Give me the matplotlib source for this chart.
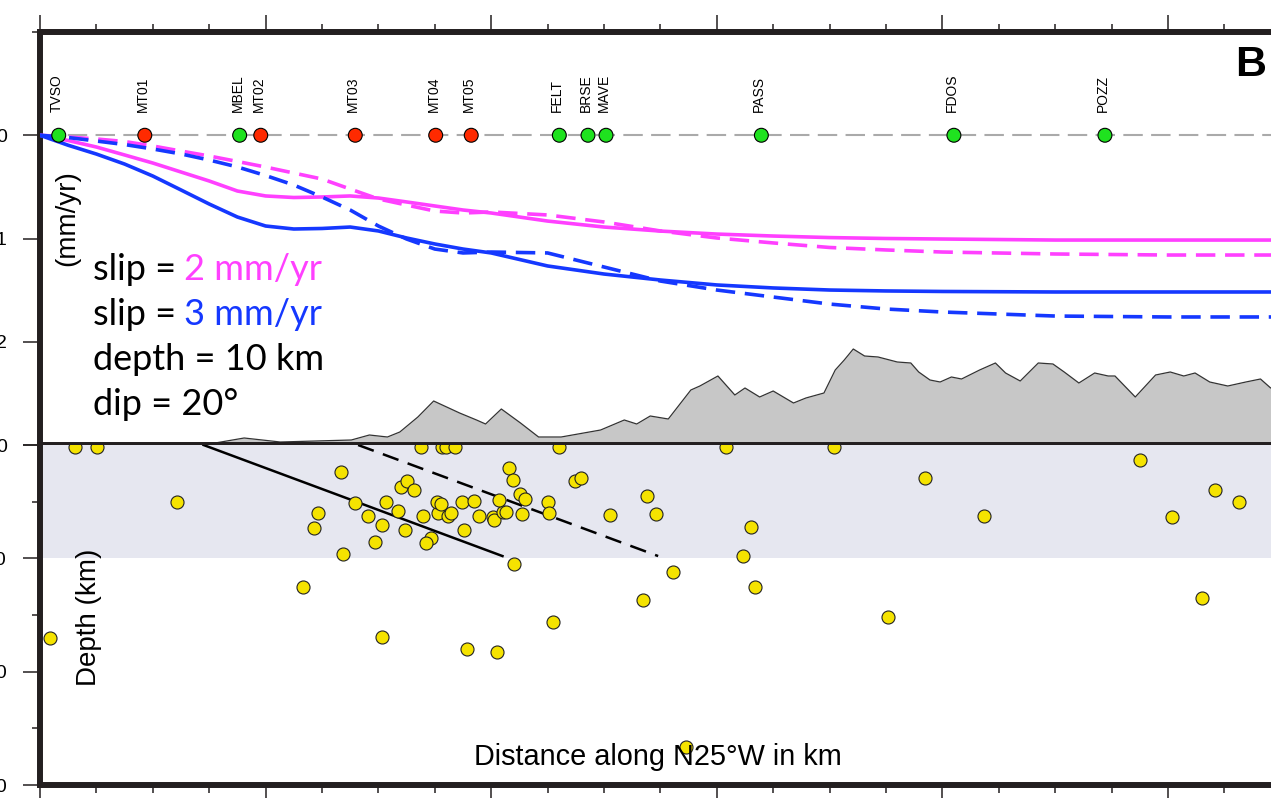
import matplotlib
matplotlib.use("Agg")
import matplotlib.pyplot as plt

plt.rcParams['lines.scale_dashes'] = False

# ---------------- data ----------------
model_km = [0, 2.5, 5, 7.5, 10, 12.5, 15, 17.5, 20, 22.5, 25, 27.5, 30, 32.5, 35,
            37.5, 40, 45, 50, 55, 60, 65, 70, 75, 80, 90, 100, 110]
slip2_solid = [0, 0.051, 0.114, 0.191, 0.269, 0.356, 0.443, 0.540, 0.588, 0.603, 0.598,
               0.588, 0.608, 0.646, 0.685, 0.724, 0.753, 0.831, 0.889, 0.928, 0.957,
               0.976, 0.991, 1.000, 1.005, 1.015, 1.015, 1.015]
slip2_dashed = [0, 0.017, 0.036, 0.061, 0.104, 0.153, 0.201, 0.254, 0.308, 0.366, 0.424,
                0.521, 0.617, 0.676, 0.734, 0.753, 0.743, 0.772, 0.840, 0.927, 0.995,
                1.043, 1.087, 1.111, 1.131, 1.150, 1.160, 1.160]
slip3_solid = [0, 0.097, 0.182, 0.279, 0.395, 0.530, 0.666, 0.792, 0.879, 0.908, 0.903,
               0.889, 0.927, 0.995, 1.053, 1.102, 1.140, 1.266, 1.344, 1.402, 1.450,
               1.479, 1.499, 1.508, 1.513, 1.518, 1.518, 1.518]
slip3_dashed = [0, 0.022, 0.056, 0.090, 0.133, 0.181, 0.240, 0.307, 0.390, 0.482, 0.598,
                0.724, 0.879, 1.005, 1.102, 1.140, 1.131, 1.140, 1.276, 1.412, 1.499,
                1.567, 1.635, 1.683, 1.712, 1.751, 1.760, 1.760]

station_names = ['TVSO', 'MT01', 'MBEL', 'MT02', 'MT03', 'MT04', 'MT05',
                 'FELT', 'BRSE', 'MAVE', 'PASS', 'FDOS', 'POZZ']
station_km = [1.66, 9.29, 17.70, 19.57, 27.95, 35.08, 38.23,
              46.04, 48.58, 50.18, 63.95, 81.02, 94.41]
station_kind = ['cgps', 'mt', 'cgps', 'mt', 'mt', 'mt', 'mt',
                'cgps', 'cgps', 'cgps', 'cgps', 'cgps', 'cgps']

topo_km = [0, 14.5, 18.1, 21.3, 27.6, 29.2, 30.8, 31.9, 33.5, 34.9, 37.2, 38.7, 39.5,
           40.9, 42.6, 44.2, 46.2, 49.7, 51.8, 52.9, 54.1, 55.7, 57.7, 58.5, 60.1,
           61.6, 62.5, 63.8, 65.0, 66.8, 67.9, 69.5, 70.5, 71.3, 72.1, 73.1, 74.3,
           76.0, 77.2, 77.9, 78.9, 79.8, 80.8, 81.7, 83.3, 84.7, 85.6, 86.9, 88.5,
           89.8, 90.8, 92.1, 93.5, 94.7, 95.3, 97.1, 98.9, 100.2, 101.4, 102.4,
           103.7, 105.3, 106.9, 108.2, 109.1, 110]
topo_m = [0, 0, 140, 60, 100, 200, 160, 260, 560, 880, 640, 500, 420,
          720, 440, 160, 160, 300, 500, 420, 580, 520, 1100, 1180, 1380,
          1000, 1140, 960, 1080, 840, 940, 1040, 1500, 1700, 1920, 1780, 1760,
          1660, 1640, 1460, 1300, 1260, 1360, 1320, 1500, 1640, 1440, 1280, 1640,
          1620, 1460, 1240, 1440, 1380, 1380, 960, 1400, 1460, 1380, 1440,
          1260, 1180, 1260, 1320, 1140, 1200]

quake_km = [3.07, 5.05, 12.17, 26.68, 24.68, 24.33, 26.82, 23.33, 0.93, 27.89, 29.11,
            29.74, 30.34, 30.70, 30.34, 31.76, 32.39, 32.00, 32.55, 33.19, 33.95,
            34.69, 34.18, 35.28, 35.17, 35.57, 36.20, 36.44, 37.38, 37.62, 38.49,
            38.89, 37.82, 40.47, 40.12, 40.28, 41.06, 41.34, 40.67, 41.62, 41.93,
            42.53, 43.04, 42.73, 42.06, 45.03, 45.14, 45.46, 47.47, 47.95, 50.57,
            53.81, 54.64, 53.46, 56.14, 33.82, 35.60, 35.99, 36.79, 46.01, 60.83,
            70.35, 97.54, 78.43, 104.13, 106.32, 83.66, 100.32, 63.03, 62.32, 63.35,
            75.20, 102.97, 57.23]
quake_depth = [0.15, 0.15, 5.06, 2.38, 6.00, 7.33, 9.62, 12.53, 17.01, 5.15, 6.27,
               8.56, 7.03, 5.03, 16.92, 5.83, 7.53, 3.68, 3.15, 3.97, 6.27,
               8.18, 8.62, 6.00, 5.03, 5.23, 6.29, 6.00, 5.03, 7.48, 4.92,
               6.24, 18.00, 18.30, 6.38, 6.62, 5.89, 5.89, 4.85, 2.03, 3.09,
               4.30, 4.79, 6.12, 10.53, 5.03, 6.00, 15.60, 3.15, 2.94, 6.20,
               4.50, 6.12, 13.65, 11.21, 0.15, 0.15, 0.15, 0.15, 0.15, 0.15,
               0.15, 1.32, 2.89, 3.97, 5.06, 6.27, 6.35, 7.21, 9.77, 12.56,
               15.21, 13.53, 26.63]

fault_solid_km = [14.5, 41.0]
fault_solid_depth = [0, 9.8]
fault_dashed_km = [28.2, 54.8]
fault_dashed_depth = [0, 9.8]

upper_yticks = [0, 1, 2, 3]
upper_ylabels = ['0', '1', '2', '']
depth_ticks = [0, 10, 20, 30]
depth_labels = ['0', '10', '20', '30']

# ---------------- styling ----------------
MAG = '#ff40ff'
BLU = '#1538ff'
FRAME = '#231f20'
W, H = 1271, 798
PX_PER_KM = 11.28
XMAX = 110

def fx(px):
    return px / W

def fy(py):
    return 1 - py / H

fig = plt.figure(figsize=(W / 100, H / 100), dpi=100)
width = XMAX * PX_PER_KM / W
up_pos = [fx(40), fy(445), width, (445 - 32) / H]
lo_pos = [fx(40), fy(785), width, (785 - 445) / H]

ax_topo = fig.add_axes(up_pos, zorder=0)
ax1 = fig.add_axes(up_pos, zorder=1, sharex=ax_topo)
ax2 = fig.add_axes(lo_pos, zorder=1, sharex=ax_topo)
ax1.patch.set_alpha(0)

ax_topo.set_xlim(0, XMAX)
ax_topo.set_ylim(0, 8260)
ax_topo.axis('off')
ax_topo.fill_between(topo_km, 0, topo_m, color='#c7c7c7', lw=0)
ax_topo.plot(topo_km, topo_m, color='#333333', lw=0.9)

# upper panel
ax1.set_ylim(3, -1)
ax1.axhline(0, color='#aaaaaa', lw=1.5, ls=(0, (14, 6)), zorder=1)
ax1.plot(model_km, slip2_solid, color=MAG, lw=2.6, zorder=3)
ax1.plot(model_km, slip2_dashed, color=MAG, lw=2.6, ls=(0, (14, 7)), zorder=3)
ax1.plot(model_km, slip3_solid, color=BLU, lw=2.6, zorder=3)
ax1.plot(model_km, slip3_dashed, color=BLU, lw=2.6, ls=(0, (14, 7)), zorder=3)

st_colors = ['#ff2a00' if k == 'mt' else '#1fe21f' for k in station_kind]
ax1.scatter(station_km, [0] * len(station_km), s=100, c=st_colors,
            edgecolors='black', linewidths=0.8, zorder=5)
for name, xk in zip(station_names, station_km):
    ax1.annotate(name, xy=(xk, 0), xytext=(-1.5, 16.5), textcoords='offset points',
                 rotation=90, ha='center', va='bottom', fontsize=10,
                 family='Liberation Sans')

# lower panel
ax2.set_ylim(30, 0)
ax2.axhspan(0, 10, color='#e6e7f0', lw=0, zorder=0)
ax2.plot(fault_solid_km, fault_solid_depth, color='black', lw=1.8, zorder=2)
ax2.plot(fault_dashed_km, fault_dashed_depth, color='black', lw=1.8,
         ls=(0, (12, 7)), zorder=2)
ax2.scatter(quake_km, quake_depth, s=88, c='#f5e300', edgecolors='#222222',
            linewidths=0.8, zorder=4)

# axes / ticks
for ax in (ax1, ax2):
    ax.set_xticks(list(range(0, 111, 20)))
    ax.set_xticks(list(range(0, 111, 5)), minor=True)
    ax.tick_params(which='major', direction='out', length=12, width=1.1,
                   labelsize=14, pad=12, color=FRAME)
    ax.tick_params(which='minor', direction='out', length=5.5, width=1.1, color=FRAME)
    ax.spines['right'].set_visible(False)

ax1.xaxis.tick_top()
ax1.tick_params(axis='x', which='both', labeltop=False, labelbottom=False,
                top=True, bottom=False)
ax1.set_yticks(upper_yticks)
ax1.set_yticklabels(upper_ylabels, family='Liberation Sans')
ax1.set_yticks([-1], minor=True)
for s in ('left', 'top', 'bottom'):
    ax1.spines[s].set_linewidth(4.3)
    ax1.spines[s].set_color(FRAME)

ax2.tick_params(axis='x', which='both', labelbottom=False, bottom=True, top=False)
ax2.set_yticks(depth_ticks)
ax2.set_yticklabels(depth_labels, family='Liberation Sans')
ax2.set_yticks([5, 15, 25], minor=True)
ax2.spines['top'].set_visible(False)
for s in ('left', 'bottom'):
    ax2.spines[s].set_linewidth(4.3)
    ax2.spines[s].set_color(FRAME)

# text
fig.text(fx(67), fy(218), '(mm/yr)', rotation=90, ha='center', va='center',
         fontsize=20, family='Liberation Sans')
fig.text(fx(89), fy(617), 'Depth (km)', rotation=90, ha='center', va='center',
         fontsize=20, family='Liberation Sans')
fig.text(fx(658), fy(757), 'Distance along N25°W in km', ha='center', va='center',
         fontsize=20.8, family='Liberation Sans')
fig.text(fx(1251), fy(65), 'B', ha='center', va='center', fontsize=31,
         fontweight='bold', family='Liberation Sans')

FS = 26
t1 = fig.text(fx(93), fy(280), 'slip =', fontsize=FS, family='Lato', va='baseline')
ax1.annotate('2 mm/yr', xy=(1, 0), xycoords=t1, xytext=(5.5, 0),
             textcoords='offset points', fontsize=FS, family='Lato', color=MAG,
             va='bottom', ha='left')
t2 = fig.text(fx(93), fy(325), 'slip =', fontsize=FS, family='Lato', va='baseline')
ax1.annotate('3 mm/yr', xy=(1, 0), xycoords=t2, xytext=(5.5, 0),
             textcoords='offset points', fontsize=FS, family='Lato', color=BLU,
             va='bottom', ha='left')
fig.text(fx(93), fy(370), 'depth = 10 km', fontsize=FS, family='Lato', va='baseline')
fig.text(fx(93), fy(415), 'dip = 20°', fontsize=FS, family='Lato', va='baseline')

fig.savefig('out.png', dpi=100)
